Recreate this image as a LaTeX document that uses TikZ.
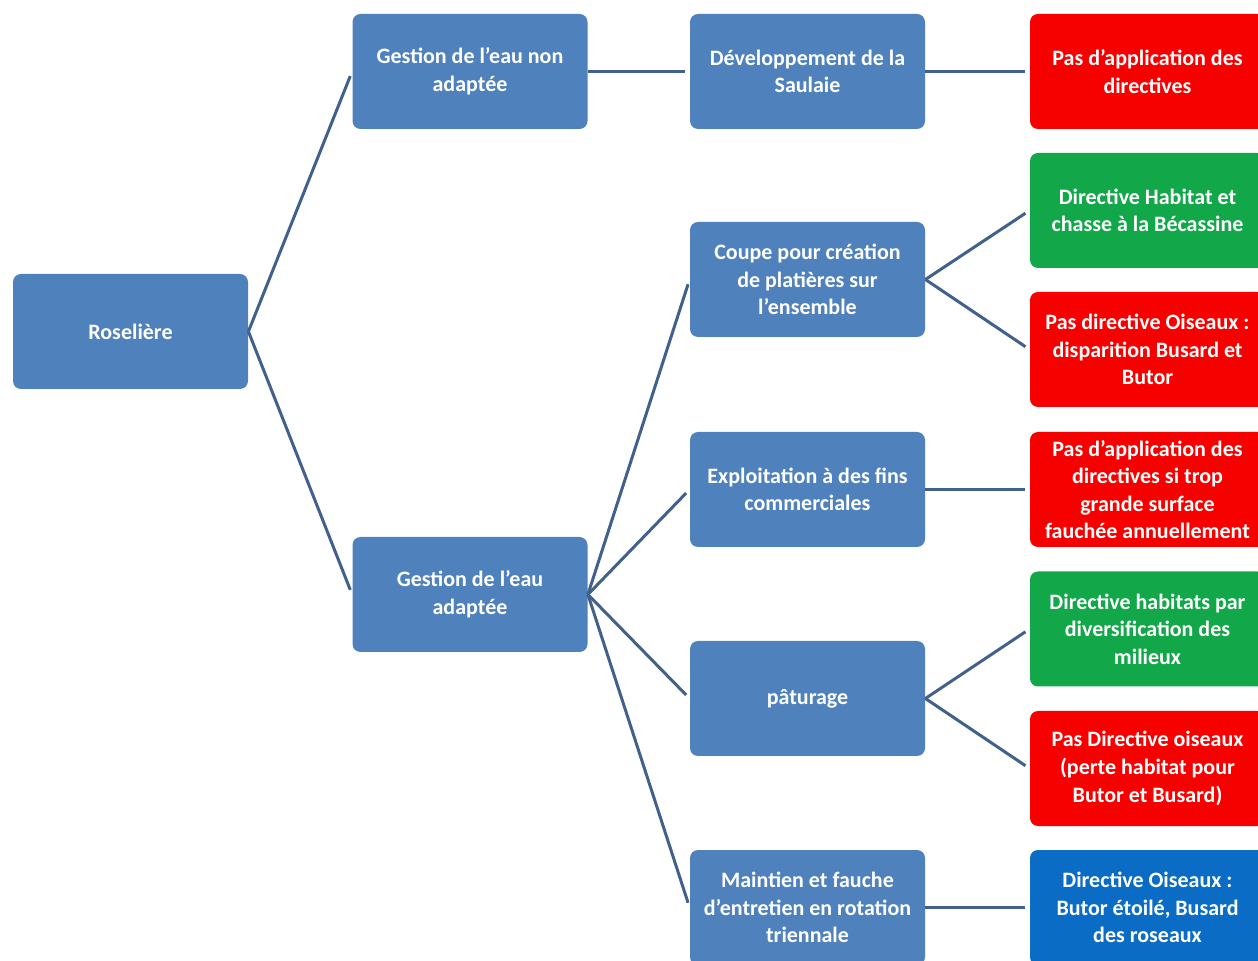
\documentclass[tikz,border=0pt]{standalone}
\usepackage{fontspec}
\setmainfont{Carlito}
\definecolor{boxblue}{HTML}{4F81BD}
\definecolor{boxred}{HTML}{F70000}
\definecolor{boxgreen}{HTML}{12A84A}
\definecolor{boxdeep}{HTML}{0A6CC4}
\definecolor{linkcol}{HTML}{42608C}
\begin{document}
\begin{tikzpicture}[x=0.5pt, y=-0.5pt,
    box/.style={rounded corners=4pt, minimum width=117.5pt, minimum height=57.5pt,
      inner sep=1pt, align=center, text=white, font=\bfseries\fontsize{11}{13.8}\selectfont},
    bluebox/.style={box, fill=boxblue},
    redbox/.style={box, fill=boxred},
    greenbox/.style={box, fill=boxgreen},
    deepbox/.style={box, fill=boxdeep},
    link/.style={draw=linkcol, line width=1.5pt, shorten >=2.5pt}]
  \useasboundingbox (0,0) rectangle (1258,961);
  % boxes, first levels
  \node[bluebox] (ros) at (130.5, 331.5) {Roselière};
  \node[bluebox] (nonad) at (470, 71.5) {Gestion de l’eau non\\adaptée};
  \node[bluebox] (adapt) at (470, 594.5) {Gestion de l’eau\\adaptée};
  % boxes, actions
  \node[bluebox] (dev) at (807.5, 71.5) {Développement de la\\Saulaie};
  \node[bluebox] (coupe) at (807.5, 279.5) {Coupe pour  création\\de platières sur\\l’ensemble};
  \node[bluebox] (expl) at (807.5, 489.5) {Exploitation à des fins\\commerciales};
  \node[bluebox] (patur) at (807.5, 698.5) {pâturage};
  \node[bluebox] (maint) at (807.5, 907.5) {Maintien et fauche\\d’entretien en rotation\\triennale};
  % boxes, outcomes
  \node[redbox] (r1) at (1147.5, 71.5) {Pas d’application des\\directives};
  \node[greenbox] (g1) at (1147.5, 210.5) {Directive Habitat et\\chasse à la Bécassine};
  \node[redbox] (r2) at (1147.5, 349.5) {Pas directive Oiseaux :\\disparition Busard et\\Butor};
  \node[redbox] (r3) at (1147.5, 489.5) {Pas d’application des\\directives si trop\\grande surface\\fauchée annuellement};
  \node[greenbox] (g2) at (1147.5, 629) {Directive habitats par\\diversification des\\milieux};
  \node[redbox] (r4) at (1147.5, 768.5) {Pas Directive oiseaux\\(perte habitat pour\\Butor et Busard)};
  \node[deepbox] (b1) at (1147.5, 907.5) {Directive Oiseaux :\\Butor étoilé, Busard\\des roseaux};
  % links
  \draw[link] (ros.east) -- (nonad.west);
  \draw[link] (ros.east) -- (adapt.west);
  \draw[link] (nonad.east) -- (dev.west);
  \foreach \n in {coupe, expl, patur, maint}
    \draw[link] (adapt.east) -- (\n.west);
  \draw[link] (dev.east) -- (r1.west);
  \draw[link] (coupe.east) -- (g1.west);
  \draw[link] (coupe.east) -- (r2.west);
  \draw[link] (expl.east) -- (r3.west);
  \draw[link] (patur.east) -- (g2.west);
  \draw[link] (patur.east) -- (r4.west);
  \draw[link] (maint.east) -- (b1.west);
\end{tikzpicture}
\end{document}
